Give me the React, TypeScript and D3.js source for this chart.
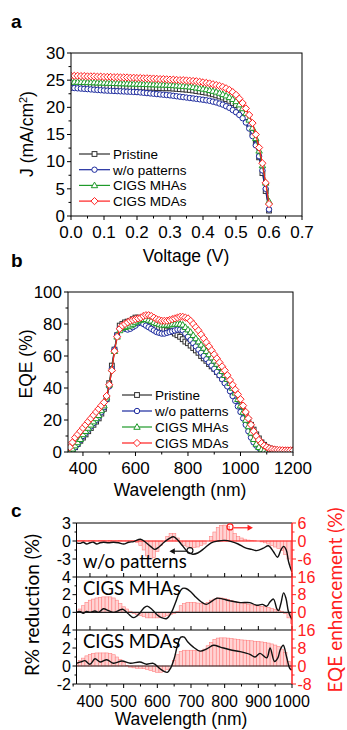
import React from 'react';
import * as d3 from 'd3';

const FONT = "'Liberation Sans', Arial, Helvetica, sans-serif";
const FONT2 = "Lato, 'Open Sans', sans-serif";

const seriesNames = ['Pristine', 'w/o patterns', 'CIGS MHAs', 'CIGS MDAs'];
const seriesColors = ['#303030', '#1c2a9e', '#1f9a2a', '#ff2020'];
const seriesMarkers = ['square', 'circle', 'triangle', 'diamond'];

// Panel a: J-V
const voltage = [0, 0.01, 0.02, 0.03, 0.04, 0.05, 0.06, 0.07, 0.08, 0.09, 0.1, 0.11, 0.12, 0.13, 0.14, 0.15, 0.16, 0.17, 0.18, 0.19, 0.2, 0.21, 0.22, 0.23, 0.24, 0.25, 0.26, 0.27, 0.28, 0.29, 0.3, 0.31, 0.32, 0.33, 0.34, 0.35, 0.36, 0.37, 0.38, 0.39, 0.4, 0.41, 0.42, 0.43, 0.44, 0.45, 0.46, 0.47, 0.48, 0.49, 0.5, 0.51, 0.52, 0.53, 0.54, 0.55, 0.56, 0.57, 0.58, 0.59, 0.6];
const jPristine = [24.1, 24.1, 24.05, 24.05, 24.0, 24.0, 23.95, 23.95, 23.9, 23.9, 23.9, 23.85, 23.85, 23.8, 23.8, 23.8, 23.75, 23.75, 23.7, 23.7, 23.7, 23.65, 23.65, 23.6, 23.6, 23.6, 23.55, 23.55, 23.5, 23.5, 23.5, 23.45, 23.4, 23.35, 23.3, 23.25, 23.2, 23.1, 23.0, 22.9, 22.8, 22.7, 22.55, 22.4, 22.2, 22.0, 21.8, 21.5, 21.2, 20.8, 20.4, 19.8, 19.1, 18.2, 16.9, 15.3, 13.3, 10.8, 7.9, 4.6, 1.0];
const jWo = [23.6, 23.55, 23.5, 23.45, 23.4, 23.35, 23.3, 23.25, 23.2, 23.15, 23.1, 23.07, 23.04, 23.01, 22.98, 22.95, 22.92, 22.89, 22.86, 22.83, 22.8, 22.74, 22.68, 22.62, 22.56, 22.5, 22.44, 22.38, 22.32, 22.26, 22.2, 22.12, 22.04, 21.96, 21.88, 21.8, 21.72, 21.64, 21.56, 21.48, 21.4, 21.3, 21.2, 21.05, 20.9, 20.7, 20.5, 20.2, 19.9, 19.5, 19.1, 18.6, 18.0, 17.2, 16.1, 14.7, 13.0, 11.0, 8.4, 5.0, 1.2];
const jMHA = [24.7, 24.68, 24.66, 24.64, 24.62, 24.6, 24.58, 24.56, 24.54, 24.52, 24.5, 24.48, 24.46, 24.44, 24.42, 24.4, 24.38, 24.36, 24.34, 24.32, 24.3, 24.28, 24.26, 24.24, 24.22, 24.2, 24.18, 24.16, 24.14, 24.12, 24.1, 24.05, 24.0, 23.95, 23.9, 23.85, 23.8, 23.7, 23.6, 23.5, 23.4, 23.3, 23.15, 23.0, 22.85, 22.65, 22.4, 22.15, 21.85, 21.5, 21.1, 20.5, 19.8, 18.9, 17.7, 16.2, 14.3, 12.0, 9.3, 6.1, 2.7];
const jMDA = [25.8, 25.8, 25.8, 25.75, 25.75, 25.7, 25.7, 25.7, 25.65, 25.65, 25.6, 25.6, 25.6, 25.55, 25.55, 25.5, 25.5, 25.5, 25.45, 25.45, 25.4, 25.4, 25.35, 25.35, 25.3, 25.3, 25.25, 25.2, 25.2, 25.15, 25.1, 25.1, 25.05, 25.0, 25.0, 24.95, 24.9, 24.85, 24.8, 24.7, 24.6, 24.5, 24.4, 24.25, 24.1, 23.95, 23.75, 23.5, 23.2, 22.8, 22.3, 21.6, 20.8, 19.8, 18.6, 17.1, 15.0, 12.6, 9.7, 6.1, 2.2];
const jvTicksX = [0, 0.1, 0.2, 0.3, 0.4, 0.5, 0.6, 0.7];
const jvTicksY = [0, 5, 10, 15, 20, 25, 30];

// Panel b: EQE
const wavelengthEQE = [350, 360, 370, 380, 390, 400, 410, 420, 430, 440, 450, 460, 470, 480, 490, 500, 510, 520, 530, 540, 550, 560, 570, 580, 590, 600, 610, 620, 630, 640, 650, 660, 670, 680, 690, 700, 710, 720, 730, 740, 750, 760, 770, 780, 790, 800, 810, 820, 830, 840, 850, 860, 870, 880, 890, 900, 910, 920, 930, 940, 950, 960, 970, 980, 990, 1000, 1010, 1020, 1030, 1040, 1050, 1060, 1070, 1080, 1090, 1100, 1110, 1120, 1130, 1140, 1150, 1160, 1170, 1180, 1190, 1200];
const eqePristine = [0, 1, 3, 5, 7, 9, 11, 13, 15, 17, 19, 21, 24, 27, 33, 43, 54, 64, 73, 79, 80, 81, 81.5, 82, 83, 84, 84, 83.5, 82, 81, 80, 79, 78.5, 78, 77.5, 77, 76.5, 76, 75.5, 75, 74, 73, 72, 70.5, 69, 68, 66.5, 65, 63.5, 62, 60, 58.5, 57, 55, 53.5, 52, 50, 48, 46, 44, 42, 40, 37.5, 35, 32, 29, 26, 23, 20, 17, 14, 11, 8.5, 6, 4.5, 3, 2.3, 1.8, 1.5, 1.2, 1, 1, 1, 1, 1, 1];
const eqeWo = [0, 1, 3, 5, 7.5, 10, 12, 14, 16, 18, 20, 22, 25, 28, 33, 41, 52, 64, 73, 77, 78, 77, 76.5, 77, 78, 79, 80.5, 81, 80, 79, 78, 77, 76, 75, 74.5, 74, 74, 74.5, 75, 75.5, 76, 76.5, 76.5, 76, 74, 72, 70, 68, 66, 64, 62, 60, 58, 56, 54, 52, 50, 48, 45.5, 43, 41, 38, 35, 32, 28.5, 25, 21, 17, 13, 9, 6, 4, 2.5, 1.5, 1, 0.5, 0.3, 0.3, 0.3, 0.3, 0.3, 0.3, 0.3, 0.3, 0.3, 0.3];
const eqeMHA = [0, 2, 4, 6, 8, 11, 13, 15, 17, 19, 21, 23, 26, 29, 34, 42, 52, 63, 72, 76, 77.5, 78, 78.5, 79, 80, 81, 82, 82.5, 83, 83, 82.5, 82, 81, 80.5, 80, 79.5, 79.5, 79.5, 79.5, 80, 80, 80, 80, 79.5, 78, 76.5, 75, 73, 71, 69, 67, 65, 63, 61, 59, 57, 55, 53, 50.5, 48, 45.5, 43, 40, 37, 33, 29, 25, 20, 16, 12, 8, 5, 3, 1.5, 1, 0.5, 0.3, 0.3, 0.3, 0.3, 0.3, 0.3, 0.3, 0.3, 0.3, 0.3];
const eqeMDA = [3, 6, 9, 11, 13, 15, 17, 19, 21, 23, 25, 27, 29, 31, 35, 42, 51, 63, 72, 77, 79, 80, 81, 82, 82.5, 83, 83.5, 84, 85, 85.5, 85.5, 85, 84, 83, 82.5, 82, 82, 82, 82.5, 83, 83.5, 84, 84.5, 84.5, 84, 83.5, 82, 80, 78, 76, 73.5, 71, 68.5, 66, 63.5, 61, 58.5, 56, 53.5, 51, 48, 45, 42, 39, 36, 33, 29, 25, 21, 17, 13, 10, 7.5, 5.5, 4, 3, 2.2, 1.8, 1.5, 1.3, 1.2, 1.1, 1, 1, 1, 1];
const eqeTicksX = [400, 600, 800, 1000, 1200];
const eqeTicksY = [0, 20, 40, 60, 80, 100];

// Panel c
const wavelengthC = [360, 370, 380, 390, 400, 410, 420, 430, 440, 450, 460, 470, 480, 490, 500, 510, 520, 530, 540, 550, 560, 570, 580, 590, 600, 610, 620, 630, 640, 650, 660, 670, 680, 690, 700, 710, 720, 730, 740, 750, 760, 770, 780, 790, 800, 810, 820, 830, 840, 850, 860, 870, 880, 890, 900, 910, 920, 930, 940, 950, 960, 970, 980, 990, 1000];
const enhWo = [0.2, 0.2, 0.2, 0.1, 0.2, 0.2, 0.1, 0.2, 0.2, 0.1, 0.2, 0.1, 0.1, 0.2, 0.1, 0.1, 0.1, 0.1, -0.5, -1.5, -3, -5, -6, -5.5, -3.5, -1.5, 0, 1.5, 2.5, 2.5, 1, -0.5, -1.5, -2, -2.2, -2.2, -2, -1.5, -1, 0, 1.5, 3, 4.5, 5.2, 5.3, 4.8, 3.8, 2.5, 1.5, 1, 0.6, 0.3, 0.2, 0.1, 0, -0.3, -0.6, -1, -1.5, -2, -2.5, -3.2, -4.5, -6, -8];
const enhMHA = [0.5, 1.5, 3, 4.5, 5.5, 6, 6.5, 6.8, 7, 7, 7, 6.5, 5.5, 4, 2.5, 1.5, 0.5, -0.5, -1, -1.5, -2, -2.5, -2.5, -2.5, -2.5, -2.3, -2, -1.5, -1, -0.5, 0.5, 3, 4, 4.5, 4.5, 4.5, 4.2, 4, 4, 4.5, 5.5, 6, 6.5, 6.5, 6.2, 5.8, 5.4, 5, 4.6, 4.3, 4, 3.7, 3.4, 3.1, 2.9, 2.7, 2.5, 2.2, 1.8, 1.4, 1, 0.5, -0.5, -2.5, -5];
const enhMDA = [1.5, 2.5, 3.5, 4.5, 5.2, 5.6, 5.8, 5.8, 5.8, 5.8, 5.6, 5, 4, 2.8, 1.5, 0.3, -0.5, -0.8, -1, -1, -1.2, -1.5, -2, -2.5, -2.8, -2.8, -2.5, -1.5, 0, 2.5, 5, 6.5, 7, 7, 7, 7, 6.8, 6.6, 7.5, 9, 10.5, 11.8, 12.4, 12.5, 12.5, 12.4, 12.2, 12, 11.8, 11.6, 11.5, 11.3, 11.2, 11, 10.9, 10.7, 10.5, 10.2, 9.8, 9.3, 8.6, 7.5, 6, 2, -2];

const redWoLambda = [360, 370, 380, 390, 400, 410, 420, 430, 440, 455, 470, 485, 500, 515, 530, 550, 565, 580, 592, 605, 620, 635, 648, 660, 675, 690, 705, 720, 740, 760, 780, 800, 820, 840, 860, 880, 895, 915, 930, 945, 957, 967, 975, 983, 990, 1000];
const redWoValue = [-0.3, -0.4, -0.2, -0.5, -0.3, -0.2, -0.5, -0.3, -0.2, -0.3, -0.2, -0.3, -0.5, -0.2, -0.1, 0.3, -0.2, -0.9, -1.4, -1.0, -0.2, 0.4, 0.7, 0.2, -0.8, -1.8, -2.2, -2.0, -1.2, -0.3, 0.0, 0.1, -0.1, -0.5, -1.1, -1.4, -1.6, -1.2, -0.8, -1.8, -2.7, -1.5, -0.9, -1.5, -3.5, -5.2];
const redMHALambda = [360, 370, 380, 390, 400, 415, 425, 440, 455, 470, 485, 497, 512, 530, 548, 560, 570, 585, 600, 612, 628, 642, 655, 665, 675, 685, 700, 715, 730, 745, 760, 777, 795, 816, 846, 875, 895, 912, 925, 935, 945, 955, 960, 967, 975, 982, 990, 1000];
const redMHAValue = [0.0, 0.1, -0.1, 0.1, 0.0, 0.15, 0.0, 0.4, 0.2, 0.0, 0.2, 0.35, -0.1, -0.6, -0.1, 0.5, 0.7, 0.3, -0.3, -0.6, -0.7, 0.0, 1.2, 2.2, 2.7, 2.7, 2.3, 1.7, 1.2, 0.9, 1.2, 1.6, 1.5, 1.3, 1.1, 1.1, 0.8, 0.9, 0.7, 1.2, 1.5, 0.4, 0.2, 1.0, 2.2, 1.6, 0.0, -0.8];
const redMDALambda = [360, 373, 385, 400, 415, 430, 450, 470, 495, 520, 548, 568, 588, 608, 620, 630, 640, 650, 660, 670, 680, 690, 707, 727, 747, 767, 787, 816, 846, 875, 890, 905, 925, 935, 948, 958, 965, 974, 984, 994, 1000];
const redMDAValue = [0.3, 0.45, 0.6, 0.2, 0.8, 0.45, 0.7, 0.3, 0.55, 0.3, 0.45, 0.2, 0.3, -0.3, -0.6, -0.7, -0.2, 0.8, 2.3, 3.2, 3.2, 2.7, 2.1, 1.65, 1.9, 2.3, 2.1, 1.8, 1.6, 1.3, 1.0, 1.4, 0.9, 2.0, 0.5, 0.9, 1.8, 2.3, 1.0, -0.3, -0.4];

const cTicksX = [400, 500, 600, 700, 800, 900, 1000];
const cSubLabels = ['w/o patterns', 'CIGS MHAs', 'CIGS MDAs'];
const cLeftTicks = [[3, 0, -3], [4, 2, 0], [4, 2, 0, -2]];
const cRightTicks = [[6, 0, -6], [16, 8, 0], [16, 8, 0, -8]];

function Mk({ kind, x, y, c }: { kind: string; x: number; y: number; c: string }) {
  const sw = 1;
  if (kind === 'square') return <rect x={x - 2.4} y={y - 2.4} width={4.8} height={4.8} fill="#fff" stroke={c} strokeWidth={sw} />;
  if (kind === 'circle') return <circle cx={x} cy={y} r={2.7} fill="#fff" stroke={c} strokeWidth={sw} />;
  if (kind === 'triangle') return <path d={`M${x},${y - 3.3}L${x + 3.2},${y + 2.3}L${x - 3.2},${y + 2.3}Z`} fill="#fff" stroke={c} strokeWidth={sw} />;
  return <path d={`M${x},${y - 3.6}L${x + 3.6},${y}L${x},${y + 3.6}L${x - 3.6},${y}Z`} fill="#fff" stroke={c} strokeWidth={sw} />;
}

export default function App() {
  // ---------- panel a ----------
  const xA = d3.scaleLinear().domain([0, 0.7]).range([71, 302]);
  const yA = d3.scaleLinear().domain([0, 30]).range([216, 53]);
  const jvSeries = [jPristine, jWo, jMHA, jMDA];
  const lineA = (arr: number[]) => d3.line<number>().x((_, i) => xA(voltage[i])).y(d => yA(d))(arr) || '';

  // ---------- panel b ----------
  const xB = d3.scaleLinear().domain([343, 1200]).range([68, 293]);
  const yB = d3.scaleLinear().domain([0, 100]).range([452, 292]);
  const eqeSeries = [eqePristine, eqeWo, eqeMHA, eqeMDA];
  const lineB = (arr: number[]) => d3.line<number>().x((_, i) => xB(wavelengthEQE[i])).y(d => yB(d))(arr) || '';

  // ---------- panel c ----------
  const xC = d3.scaleLinear().domain([360, 1000]).range([76.5, 292]);
  const subs = [
    { top: 523, bot: 577, yl: d3.scaleLinear().domain([-6, 3]).range([577, 523]), yr: d3.scaleLinear().domain([-12, 6]).range([577, 523]), enh: enhWo, rl: redWoLambda, rv: redWoValue, zero: '#ff2020', minorL: 1.5, minorR: 3 },
    { top: 577, bot: 630, yl: d3.scaleLinear().domain([-2, 4]).range([630, 577]), yr: d3.scaleLinear().domain([-8, 16]).range([630, 577]), enh: enhMHA, rl: redMHALambda, rv: redMHAValue, zero: '#222', minorL: 1, minorR: 4 },
    { top: 630, bot: 684, yl: d3.scaleLinear().domain([-2, 4]).range([684, 630]), yr: d3.scaleLinear().domain([-8, 16]).range([684, 630]), enh: enhMDA, rl: redMDALambda, rv: redMDAValue, zero: '#222', minorL: 1, minorR: 4 },
  ];
  const bw = xC(370) - xC(360);
  const subTextY = [568, 595, 648];

  const tickFont = 17;

  return (
    <svg width={347} height={730} style={{ position: 'absolute', left: 0, top: 0, background: '#fff' }} fontFamily={FONT}>
      <defs>
        {subs.map((s, k) => (
          <clipPath id={`clipc${k}`} key={k}>
            <rect x={xC(360)} y={s.top} width={xC(1000) - xC(360)} height={s.bot - s.top} />
          </clipPath>
        ))}
        <clipPath id="clipa"><rect x={71} y={53} width={231} height={163} /></clipPath>
        <clipPath id="clipb"><rect x={68} y={292} width={225} height={160} /></clipPath>
      </defs>

      {/* ================= Panel a ================= */}
      <text x={11} y={28} fontSize={19} fontWeight="bold">a</text>
      {jvTicksX.map(t => (
        <g key={'ax' + t}>
          <line x1={xA(t)} x2={xA(t)} y1={216} y2={220} stroke="#000" />
          <text x={xA(t)} y={237.5} fontSize={tickFont} textAnchor="middle">{d3.format('.1f')(t)}</text>
        </g>
      ))}
      {jvTicksX.slice(0, -1).map(t => (
        <line key={'axm' + t} x1={xA(t + 0.05)} x2={xA(t + 0.05)} y1={216} y2={218.5} stroke="#000" />
      ))}
      {jvTicksY.map(t => (
        <g key={'ay' + t}>
          <line x1={67} x2={71} y1={yA(t)} y2={yA(t)} stroke="#000" />
          <text x={65} y={yA(t)} dy="0.34em" fontSize={tickFont} textAnchor="end">{t}</text>
        </g>
      ))}
      {jvTicksY.slice(0, -1).map(t => (
        <line key={'aym' + t} x1={68.5} x2={71} y1={yA(t + 2.5)} y2={yA(t + 2.5)} stroke="#000" />
      ))}
      <g clipPath="url(#clipa)">
        {jvSeries.map((s, k) => (
          <g key={'as' + k}>
            <path d={lineA(s)} fill="none" stroke={seriesColors[k]} strokeWidth={1.2} />
            {s.map((v, i) => <Mk key={i} kind={seriesMarkers[k]} x={xA(voltage[i])} y={yA(v)} c={seriesColors[k]} />)}
          </g>
        ))}
      </g>
      <rect x={71} y={53} width={231} height={163} fill="none" stroke="#000" strokeWidth={1} />
      {seriesNames.map((n, k) => {
        const y = 154 + k * 15.7;
        return (
          <g key={'al' + k}>
            <line x1={79} x2={110} y1={y} y2={y} stroke={seriesColors[k]} strokeWidth={1.2} />
            <Mk kind={seriesMarkers[k]} x={94.5} y={y} c={seriesColors[k]} />
            <text x={113} y={y} dy="0.36em" fontSize={13.5}>{n}</text>
          </g>
        );
      })}
      <text transform="translate(33,134) rotate(-90)" textAnchor="middle" fontSize={17.5}>
        J (mA/cm<tspan dy={-6} fontSize={11}>2</tspan><tspan dy={6}>)</tspan>
      </text>
      <text x={186} y={262} textAnchor="middle" fontSize={17.5}>Voltage (V)</text>

      {/* ================= Panel b ================= */}
      <text x={11} y={267} fontSize={19} fontWeight="bold">b</text>
      {eqeTicksX.map(t => (
        <g key={'bx' + t}>
          <line x1={xB(t)} x2={xB(t)} y1={452} y2={456} stroke="#000" />
          <text x={xB(t)} y={474} fontSize={tickFont} textAnchor="middle">{t}</text>
        </g>
      ))}
      {eqeTicksX.slice(0, -1).map(t => (
        <line key={'bxm' + t} x1={xB(t + 100)} x2={xB(t + 100)} y1={452} y2={454.5} stroke="#000" />
      ))}
      {eqeTicksY.map(t => (
        <g key={'by' + t}>
          <line x1={64} x2={68} y1={yB(t)} y2={yB(t)} stroke="#000" />
          <text x={62} y={yB(t)} dy="0.36em" fontSize={tickFont} textAnchor="end">{t}</text>
        </g>
      ))}
      {eqeTicksY.slice(0, -1).map(t => (
        <line key={'bym' + t} x1={65.5} x2={68} y1={yB(t + 10)} y2={yB(t + 10)} stroke="#000" />
      ))}
      <g clipPath="url(#clipb)">
        {eqeSeries.map((s, k) => (
          <g key={'bs' + k}>
            <path d={lineB(s)} fill="none" stroke={seriesColors[k]} strokeWidth={1.2} />
            {s.map((v, i) => <Mk key={i} kind={seriesMarkers[k]} x={xB(wavelengthEQE[i])} y={yB(v)} c={seriesColors[k]} />)}
          </g>
        ))}
      </g>
      <rect x={68} y={292} width={225} height={160} fill="none" stroke="#000" strokeWidth={1} />
      {seriesNames.map((n, k) => {
        const y = 395 + k * 16;
        return (
          <g key={'bl' + k}>
            <line x1={122} x2={152} y1={y} y2={y} stroke={seriesColors[k]} strokeWidth={1.2} />
            <Mk kind={seriesMarkers[k]} x={137} y={y} c={seriesColors[k]} />
            <text x={155} y={y} dy="0.36em" fontSize={13.5}>{n}</text>
          </g>
        );
      })}
      <text transform="translate(32,364) rotate(-90)" textAnchor="middle" fontSize={17.5}>EQE (%)</text>
      <text x={180} y={496} textAnchor="middle" fontSize={17.5}>Wavelength (nm)</text>

      {/* ================= Panel c ================= */}
      <text x={11} y={517} fontSize={19} fontWeight="bold">c</text>
      {subs.map((s, k) => (
        <g key={'cs' + k}>
          <g clipPath={`url(#clipc${k})`}>
            {s.enh.map((v, i) => {
              const y0 = s.yr(0), y1 = s.yr(v);
              return (
                <rect key={i} x={xC(wavelengthC[i]) - bw / 2} width={bw} y={Math.min(y0, y1)} height={Math.abs(y1 - y0)}
                  fill="#ffd3d3" stroke="#ff8080" strokeWidth={0.6} />
              );
            })}
            <line x1={xC(360)} x2={xC(1000)} y1={s.yl(0)} y2={s.yl(0)} stroke={s.zero} strokeWidth={1.1} />
            <path d={d3.line<number>().x(d => xC(d)).y((_, i) => s.yl(s.rv[i])).curve(d3.curveCatmullRom)(s.rl) || ''}
              fill="none" stroke="#111" strokeWidth={1.4} />
          </g>
          {cLeftTicks[k].map(t => (
            <g key={'cl' + t}>
              <line x1={72.5} x2={76.5} y1={s.yl(t)} y2={s.yl(t)} stroke="#000" />
              <text x={71} y={s.yl(t)} dy="0.36em" fontSize={16} textAnchor="end">{t}</text>
            </g>
          ))}
          {cLeftTicks[k].slice(0, -1).map(t => (
            <line key={'clm' + t} x1={74.5} x2={76.5} y1={s.yl(t - s.minorL)} y2={s.yl(t - s.minorL)} stroke="#000" />
          ))}
          {cRightTicks[k].map(t => (
            <g key={'cr' + t}>
              <line x1={292} x2={296} y1={s.yr(t)} y2={s.yr(t)} stroke="#ff2020" />
              <text x={297.5} y={s.yr(t)} dy="0.36em" fontSize={16} fill="#ff2020">{t}</text>
            </g>
          ))}
          {cRightTicks[k].slice(0, -1).map(t => (
            <line key={'crm' + t} x1={292} x2={294.5} y1={s.yr(t - s.minorR)} y2={s.yr(t - s.minorR)} stroke="#ff2020" />
          ))}
          {k < 2 && cTicksX.flatMap(t => [t, t - 50]).filter(t => t > 360).map(t => (
            <line key={'cbt' + t} x1={xC(t)} x2={xC(t)} y1={s.bot} y2={s.bot - (t % 100 === 0 ? 4 : 2.5)} stroke="#000" />
          ))}
          <line x1={xC(360)} x2={xC(1000)} y1={s.bot} y2={s.bot} stroke="#000" strokeWidth={1} />
          <text x={83} y={subTextY[k]} fontSize={18.5} fontFamily={FONT2}>{cSubLabels[k]}</text>
        </g>
      ))}
      <line x1={xC(360)} x2={xC(1000)} y1={523} y2={523} stroke="#000" strokeWidth={1} />
      <line x1={xC(360)} x2={xC(360)} y1={523} y2={684} stroke="#000" strokeWidth={1} />
      <line x1={xC(1000)} x2={xC(1000)} y1={523} y2={684} stroke="#ff2020" strokeWidth={1.5} />
      {cTicksX.map(t => (
        <g key={'cx' + t}>
          <line x1={xC(t)} x2={xC(t)} y1={684} y2={688} stroke="#000" />
          <text x={xC(t)} y={707} fontSize={16} textAnchor="middle">{t}</text>
        </g>
      ))}
      {cTicksX.map(t => t - 50).map(t => (
        <line key={'cxm' + t} x1={xC(t)} x2={xC(t)} y1={684} y2={686.5} stroke="#000" />
      ))}
      {/* annotations */}
      <circle cx={xC(816)} cy={subs[0].yr(4.7)} r={3} fill="none" stroke="#ff2020" strokeWidth={1.2} />
      <line x1={xC(826)} x2={xC(878)} y1={subs[0].yr(4.4)} y2={subs[0].yr(4.4)} stroke="#ff2020" strokeWidth={1.2} />
      <path d={`M${xC(884)},${subs[0].yr(4.4)}L${xC(868)},${subs[0].yr(4.4) - 3}L${xC(868)},${subs[0].yr(4.4) + 3}Z`} fill="#ff2020" />
      <circle cx={xC(697)} cy={subs[0].yl(-1.6)} r={3} fill="none" stroke="#111" strokeWidth={1.1} />
      <line x1={xC(688)} x2={xC(642)} y1={subs[0].yl(-1.7)} y2={subs[0].yl(-1.7)} stroke="#111" strokeWidth={1.2} />
      <path d={`M${xC(636)},${subs[0].yl(-1.7)}L${xC(652)},${subs[0].yl(-1.7) - 3}L${xC(652)},${subs[0].yl(-1.7) + 3}Z`} fill="#111" />

      <text transform="translate(39,605) rotate(-90)" textAnchor="middle" fontSize={19} fontFamily={FONT2}>R% reduction (%)</text>
      <text transform="translate(342,600) rotate(-90)" textAnchor="middle" fontSize={19} fontFamily={FONT2} fill="#ff2020">EQE enhancement (%)</text>
      <text x={181} y={725} textAnchor="middle" fontSize={17.5}>Wavelength (nm)</text>
    </svg>
  );
}
